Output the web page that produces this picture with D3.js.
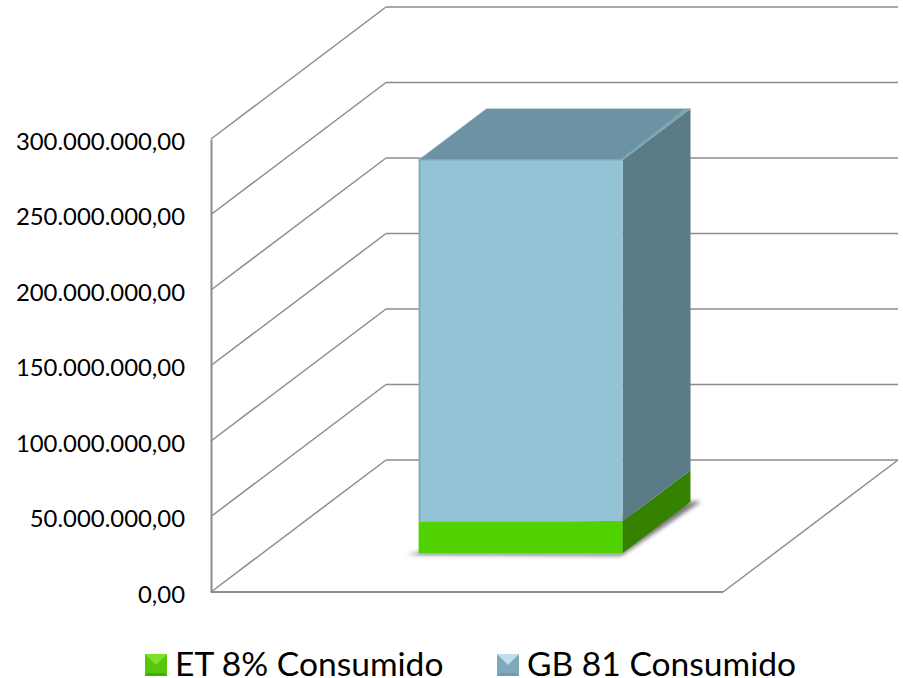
<!DOCTYPE html>
<html>
<head>
<meta charset="utf-8">
<script src="https://cdn.jsdelivr.net/npm/d3@7"></script>
<style>
html, body { margin: 0; padding: 0; background: #fff; }
text { font-family: Lato, "Open Sans", sans-serif; fill: #000; }
</style>
</head>
<body>
<div id="chart"></div>
<script>
const categories = ["Total"];
const seriesNames = ["ET 8% Consumido", "GB 81 Consumido"];
const etValues = [21000000];
const gbValues = [239500000];
const tickValues = [0, 50000000, 100000000, 150000000, 200000000, 250000000, 300000000];

const W = 903, H = 678;

let svg = d3.select("#chart").append("svg")
  .attr("width", W)
  .attr("height", H)
  .style("display", "block");

let defs = svg.append("defs");
defs.append("filter").attr("id", "blur")
  .attr("x", "-10%").attr("y", "-10%").attr("width", "120%").attr("height", "120%")
  .append("feGaussianBlur").attr("stdDeviation", 2);

// front plane of the box and how far the depth axis runs
let y = d3.scaleLinear().domain([0, 300000000]).range([592, 139]);
let x = d3.scaleBand().domain(categories).range([211, 723]).paddingInner(0).paddingOuter(0);
let depthX = d3.scaleLinear().domain([0, 1]).range([0, 175]);
let depthY = d3.scaleLinear().domain([0, 1]).range([0, -132]);

const project = (px, v, dep) => [px + depthX(dep), y(v) + depthY(dep)];
const poly = pts => pts.map(p => p.join(",")).join(" ");

const gridColor = "#8c8c8c";
const x0 = x.range()[0], x1 = x.range()[1];

// walls
svg.selectAll(".grid-side").data(tickValues).enter().append("line")
  .attr("x1", d => project(x0, d, 0)[0]).attr("y1", d => project(x0, d, 0)[1])
  .attr("x2", d => project(x0, d, 1)[0]).attr("y2", d => project(x0, d, 1)[1])
  .attr("stroke", gridColor).attr("stroke-width", 1.5);
svg.selectAll(".grid-back").data(tickValues).enter().append("line")
  .attr("x1", d => project(x0, d, 1)[0]).attr("y1", d => project(x0, d, 1)[1])
  .attr("x2", d => project(x1, d, 1)[0]).attr("y2", d => project(x1, d, 1)[1])
  .attr("stroke", gridColor).attr("stroke-width", 1.5);

// floor edges
svg.append("line")
  .attr("x1", x0).attr("y1", y(0)).attr("x2", x1).attr("y2", y(0))
  .attr("stroke", gridColor).attr("stroke-width", 2);
svg.append("line")
  .attr("x1", x1).attr("y1", y(0))
  .attr("x2", project(x1, 0, 1)[0]).attr("y2", project(x1, 0, 1)[1])
  .attr("stroke", gridColor).attr("stroke-width", 1.5);

// y axis, labels only + vertical line
let fmt = d3.formatLocale({ decimal: ",", thousands: ".", grouping: [3], currency: ["", ""] }).format(",.2f");
let yAxis = d3.axisLeft(y).tickValues(tickValues).tickFormat(fmt).tickSize(0).tickPadding(26);
let axisG = svg.append("g").attr("transform", `translate(${x0},0)`).call(yAxis);
axisG.select(".domain").attr("stroke", gridColor).attr("stroke-width", 2);
axisG.selectAll("text")
  .style("font-size", "23.9px")
  .attr("dy", "0.43em");

// bar: sits at depth .295 on the floor, runs .39 of the depth
const dep0 = 0.295, dep1 = 0.683;
const barLeft = 367, barRight = 571;

const stack = [
  { name: seriesNames[0], from: 0, to: etValues[0], front: "#50d200", side: "#358200", topFill: "#4aa80a" },
  { name: seriesNames[1], from: etValues[0], to: etValues[0] + gbValues[0], front: "#93c3d5", side: "#5b7b86", topFill: "#6c93a3" }
];

// shadow below the bar
svg.append("polygon")
  .attr("points", poly([
    project(barLeft - 10, 0, dep0 - 0.01),
    project(barRight + 2, 0, dep0 - 0.02),
    project(barRight + 10, 0, dep1 + 0.005),
    project(barRight, 0, dep1),
    project(barLeft, 0, dep0 + 0.01)
  ]))
  .attr("fill", "#777")
  .attr("filter", "url(#blur)");

svg.selectAll(".seg-side").data(stack).enter().append("polygon")
  .attr("points", d => poly([
    project(barRight, d.from, dep0), project(barRight, d.from, dep1),
    project(barRight, d.to, dep1), project(barRight, d.to, dep0)
  ]))
  .attr("fill", d => d.side);

svg.selectAll(".seg-front").data(stack).enter().append("polygon")
  .attr("points", d => poly([
    project(barLeft, d.from, dep0), project(barRight, d.from, dep0),
    project(barRight, d.to, dep0), project(barLeft, d.to, dep0)
  ]))
  .attr("fill", d => d.front);

// top of the bar
let topSeg = stack[1];
let topV = topSeg.to;
svg.append("polygon")
  .attr("points", poly([
    project(barLeft, topV, dep0), project(barRight, topV, dep0),
    project(barRight, topV, dep1), project(barLeft, topV, dep1)
  ]))
  .attr("fill", topSeg.topFill)
  .attr("stroke", "#c9d6db").attr("stroke-width", 0.6).attr("stroke-linejoin", "round");

// bevel highlights
svg.append("polygon")
  .attr("points", poly([
    project(barRight, topV, dep0), project(barRight, topV, dep1),
    project(barRight - 6, topV, dep1 - 0.005), project(barRight - 3, topV, dep0 + 0.01)
  ]))
  .attr("fill", "#7ba3b3");
svg.append("line")
  .attr("x1", project(barLeft, topV, dep0)[0]).attr("y1", project(barLeft, topV, dep0)[1])
  .attr("x2", project(barRight, topV, dep0)[0]).attr("y2", project(barRight, topV, dep0)[1])
  .attr("stroke", "#7ba9ba").attr("stroke-width", 1.5);
svg.append("line")
  .attr("x1", project(barLeft, etValues[0], dep0)[0] + 1).attr("y1", project(barLeft, etValues[0], dep0)[1])
  .attr("x2", project(barLeft, topV, dep0)[0] + 1).attr("y2", project(barLeft, topV, dep0)[1])
  .attr("stroke", "#7ba9ba").attr("stroke-width", 1.5);
svg.append("line")
  .attr("x1", project(barLeft, 0, dep0)[0]).attr("y1", project(barLeft, 0, dep0)[1] + 1)
  .attr("x2", project(barRight, 0, dep0)[0]).attr("y2", project(barRight, 0, dep0)[1] + 1)
  .attr("stroke", "#b5b5b5").attr("stroke-width", 1.5);

// legend
const legendItems = [
  { name: seriesNames[0], sx: 145, tx: 175, base: "#56c80a", dark: "#46a80a", light: "#7fe02a" },
  { name: seriesNames[1], sx: 497, tx: 527, base: "#7fa9ba", dark: "#6f9cae", light: "#bfe0ea" }
];
let legend = svg.selectAll(".legend").data(legendItems).enter().append("g");
legend.each(function (d) {
  let g = d3.select(this);
  let s = 22, l = d.sx, t = 654;
  g.append("rect").attr("x", l).attr("y", t).attr("width", s).attr("height", s).attr("fill", d.base);
  g.append("polygon").attr("points", poly([[l, t], [l + s, t], [l + s / 2, t + s / 2]])).attr("fill", d.light);
  g.append("polygon").attr("points", poly([[l, t + s], [l + s, t + s], [l + s - 3, t + s - 3], [l + 3, t + s - 3]])).attr("fill", d.dark);
  g.append("text").attr("x", d.tx).attr("y", 676).style("font-size", "33.6px").text(d.name);
});
</script>
</body>
</html>
